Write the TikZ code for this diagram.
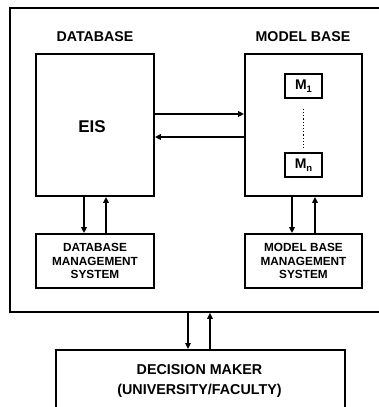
\documentclass[tikz,border=0pt]{standalone}
\usepackage{fontspec}
\setmainfont{Liberation Sans}
\usetikzlibrary{arrows.meta,calc}
\newcommand{\modsub}[1]{\raisebox{-0.35ex}{\fontsize{9.5}{10}\selectfont #1}}
\begin{document}
\begin{tikzpicture}[x=1pt,y=-1pt,
  box/.style={draw, line width=1.8pt, inner sep=0pt},
  flow/.style={line width=1.6pt, -{Triangle[length=6pt,width=5.5pt]}},
  lbl/.style={font=\bfseries\fontsize{14.2}{16}\selectfont},
  sys/.style={font=\bfseries\fontsize{11.8}{13.5}\selectfont, align=center}]
\useasboundingbox (0,0) rectangle (379,407);
\clip (0,0) rectangle (379,407);
\fill[white] (0,0) rectangle (379,407);

% enclosing system frame
\node[box, minimum width=385pt, minimum height=304pt, anchor=north west] (frame) at (9,7) {};

% database side
\node[lbl] (dbl) at (95,37) {DATABASE};
\node[box, minimum width=118pt, minimum height=142pt] (eis) at (95,125) {};
\node[font=\bfseries\fontsize{17}{19}\selectfont] (eist) at (92,127) {EIS};
\node[box, minimum width=118pt, minimum height=54pt, sys] (dbms) at (95,261)
  {DATABASE\\MANAGEMENT\\SYSTEM};

% model base side
\node[lbl] (mbl) at (303,37) {MODEL BASE};
\node[box, minimum width=117pt, minimum height=142pt] (mb) at (303.5,125) {};
\node[box, line width=1.6pt, minimum width=37pt, minimum height=24pt,
  font=\bfseries\fontsize{14}{15}\selectfont] (m1) at (303.5,86) {M\modsub{1}};
\node[box, line width=1.6pt, minimum width=37pt, minimum height=24pt,
  font=\bfseries\fontsize{14}{15}\selectfont] (mn) at (303.5,165) {M\modsub{n}};
\draw[line width=1.2pt, dotted] ($(m1.south)+(0,10)$) -- ($(mn.north)+(0,-4)$);
\node[box, minimum width=117pt, minimum height=54pt, sys] (mbms) at (303.5,261)
  {MODEL BASE\\MANAGEMENT\\SYSTEM};

% decision maker
\node[box, minimum width=289pt, minimum height=80pt, anchor=north west] (dm) at (55,349) {};
\node[font=\bfseries\fontsize{14.3}{16}\selectfont, align=center] (dmt) at (199.5,381)
  {DECISION MAKER\\[4pt](UNIVERSITY/FACULTY)};

% information flows
\draw[flow] (eis.east |- 0,114) -- (mb.west |- 0,114);
\draw[flow] (mb.west |- 0,137) -- (eis.east |- 0,137);
\draw[flow] (eis.south -| 84,0) -- (dbms.north -| 84,0);
\draw[flow] (dbms.north -| 106,0) -- (eis.south -| 106,0);
\draw[flow] (mb.south -| 292,0) -- (mbms.north -| 292,0);
\draw[flow] (mbms.north -| 315,0) -- (mb.south -| 315,0);
\draw[flow] (frame.south -| 188,0) -- (dm.north -| 188,0);
\draw[flow] (dm.north -| 210,0) -- (frame.south -| 210,0);
\end{tikzpicture}
\end{document}
